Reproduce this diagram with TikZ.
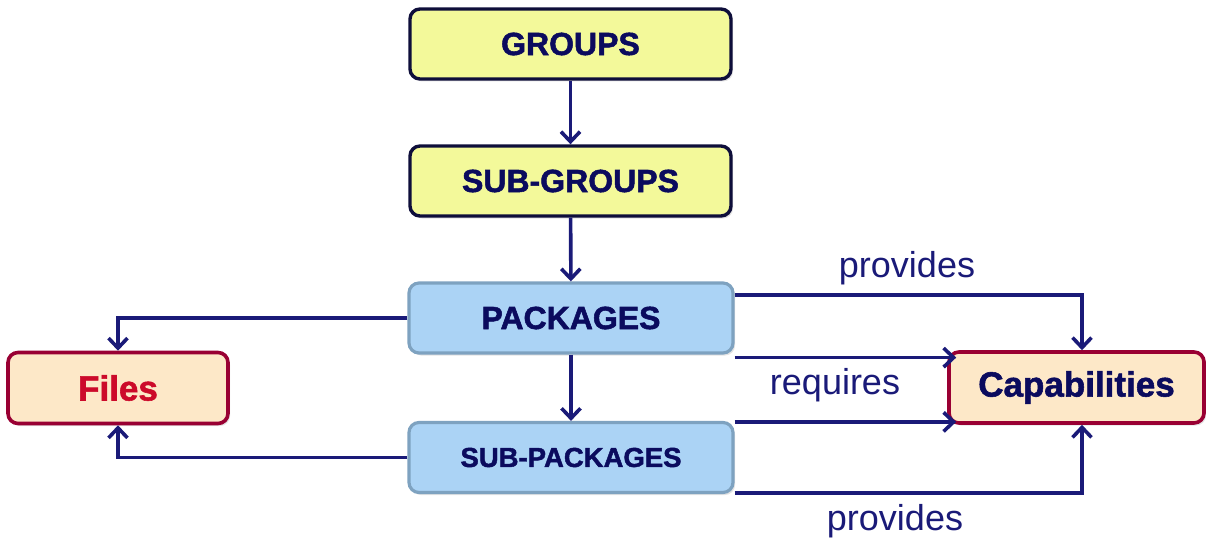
\documentclass[tikz,border=0pt]{standalone}
\usepackage{fontspec}
\setmainfont{Liberation Sans}
\newfontfamily\heavyfont{Liberation Sans Bold}[FakeBold=1.6]
\usetikzlibrary{arrows.meta,shadows,calc}

\definecolor{navy}{HTML}{1A1A78}
\definecolor{inknavy}{HTML}{0B0B5E}
\definecolor{yfill}{HTML}{F3F99A}
\definecolor{yedge}{HTML}{0E0E3A}
\definecolor{bfill}{HTML}{ABD3F5}
\definecolor{bedge}{HTML}{7EA2C0}
\definecolor{pfill}{HTML}{FDE8C8}
\definecolor{pedge}{HTML}{990033}
\definecolor{redtext}{HTML}{CC0A2A}

\tikzset{
  box/.style={rounded corners=10pt, minimum height=70pt, inner sep=0pt,
    text=inknavy,
    drop shadow={opacity=0.22, shadow xshift=2pt, shadow yshift=-2.5pt}},
  ybox/.style={box, draw=yedge, fill=yfill, line width=3.4pt, minimum width=321pt},
  bbox/.style={box, draw=bedge, fill=bfill, line width=3.2pt, minimum width=324pt},
  pbox/.style={box, draw=pedge, fill=pfill, line width=3.6pt, minimum height=71pt},
  link/.style={draw=navy, line width=3.6pt, line join=miter,
    -{Straight Barb[length=10pt,width=19pt,line width=3.6pt]}},
  lbl/.style={text=navy, font=\fontsize{36}{40}\selectfont, inner sep=0pt}
}

\begin{document}
\begin{tikzpicture}[x=1pt,y=-1pt]
  \useasboundingbox (0,0) rectangle (1206,540);

  % hierarchy of boxes
  \node[ybox, font=\fontsize{32}{36}\heavyfont] (gr) at (570.5,44) {GROUPS};
  \node[ybox, font=\fontsize{32}{36}\heavyfont] (sg) at (570.5,181) {SUB-GROUPS};
  \node[bbox, font=\fontsize{32}{36}\heavyfont] (pk) at (571,318) {PACKAGES};
  \node[bbox, font=\fontsize{27.5}{32}\heavyfont] (sp) at (571,457.5) {SUB-PACKAGES};
  \node[pbox, minimum width=220pt, text=redtext,
        font=\fontsize{35}{40}\heavyfont] (fi) at (118,388) {Files};
  \node[pbox, minimum width=255pt,
        font=\fontsize{35}{40}\heavyfont] (ca) at (1076.5,387.5) {Capabilities};

  % vertical chain
  \draw[link] (gr) -- (sg);
  \draw[link] (sg) -- (pk);
  \draw[link] (pk) -- (sp);

  % links to files
  \draw[link] (pk.west) -| (fi.north);
  \draw[link] (sp.west) -| (fi.south);

  % links to capabilities
  \coordinate (capn) at ([xshift=5.5pt]ca.north);
  \coordinate (caps) at ([xshift=5.5pt]ca.south);
  \draw[link] ([yshift=23pt]pk.east) -| (capn);
  \draw[link, shorten >=-9pt] ([yshift=-3pt]pk.south east) -- ([yshift=-3pt]pk.south east -| ca.west);
  \draw[link, shorten >=-9pt] ([yshift=-1pt]sp.north east) -- ([yshift=-1pt]sp.north east -| ca.west);
  \draw[link] ([yshift=1pt]sp.south east) -| (caps);

  % labels
  \node[lbl] (prov1) at (907,268) {provides};
  \node[lbl] (req) at (835,385) {requires};
  \node[lbl] (prov2) at (895,521) {provides};
\end{tikzpicture}
\end{document}
